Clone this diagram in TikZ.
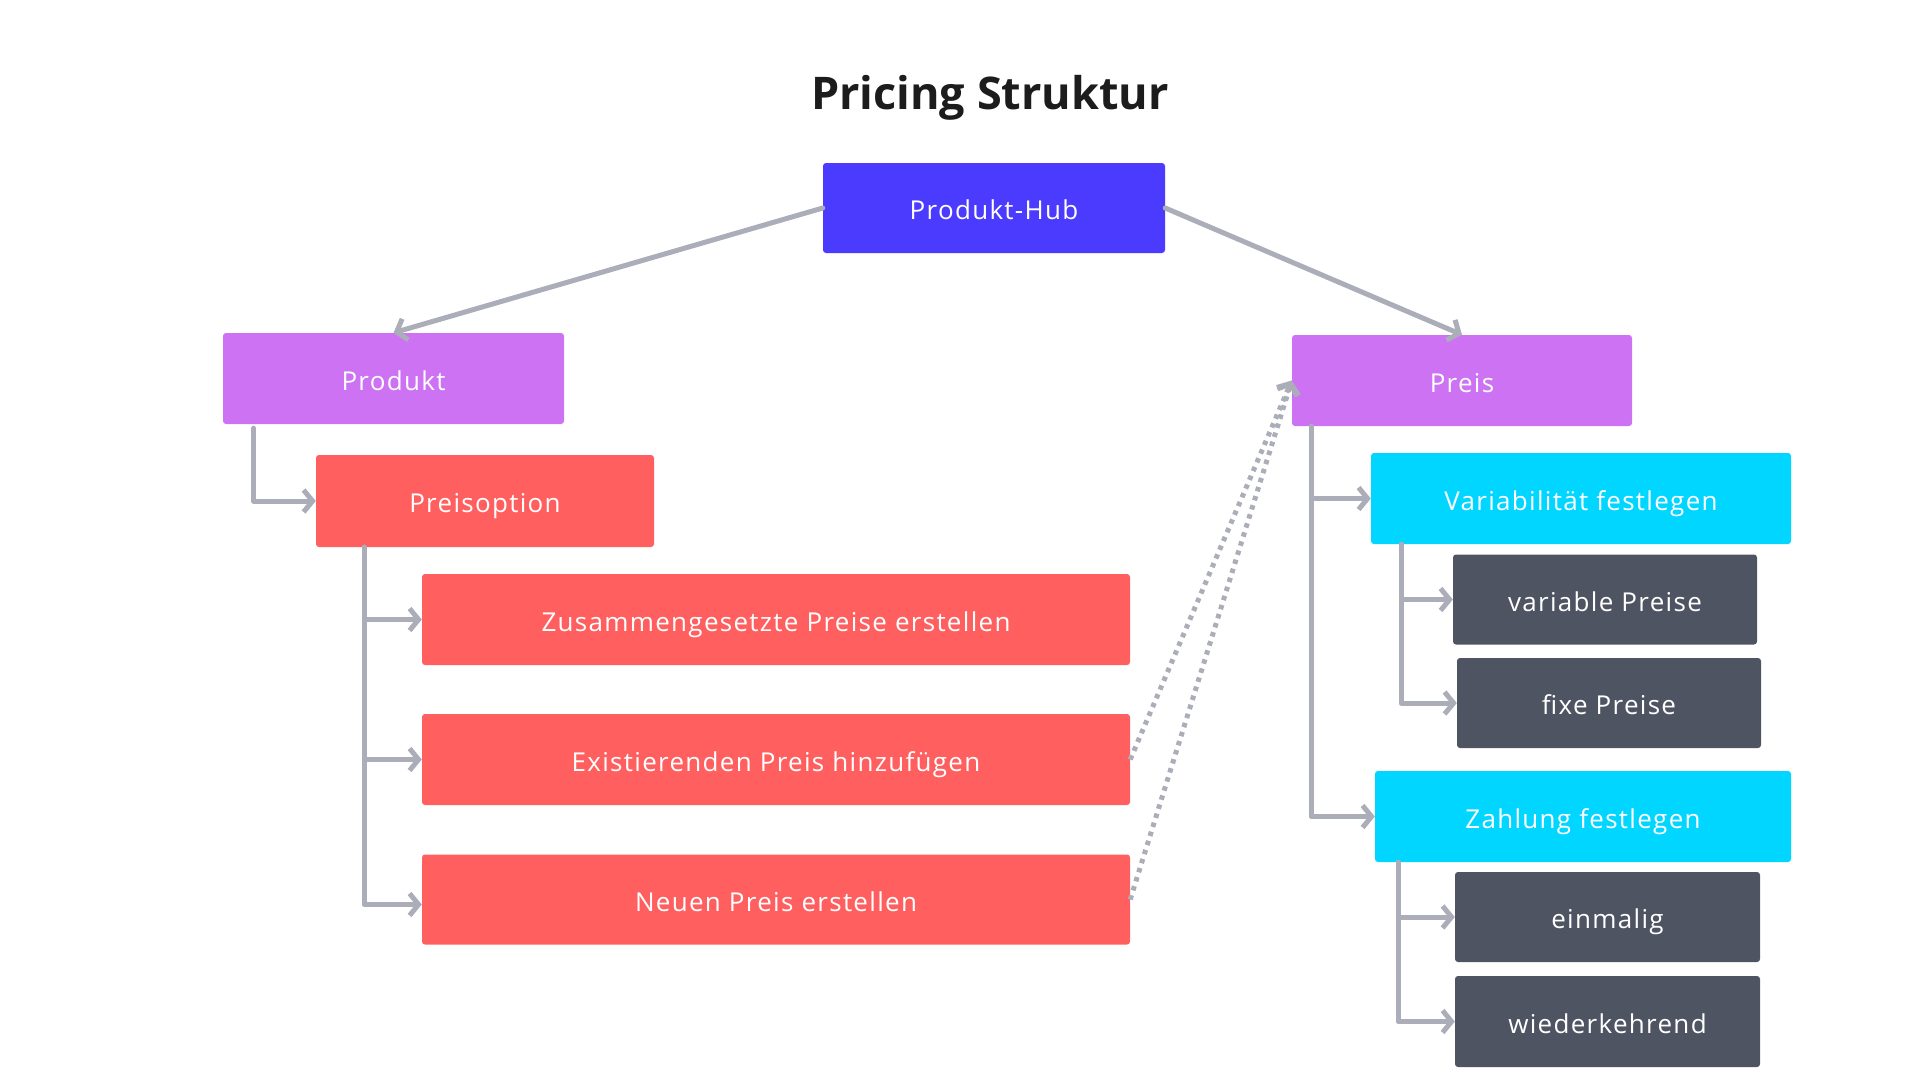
\documentclass[tikz,border=0pt]{standalone}
\usepackage{fontspec}
\setmainfont{Open Sans}[LetterSpace=5]
\newfontfamily\titlefont{Open Sans}[BoldFont={* Bold}]
\usetikzlibrary{arrows.meta}
\definecolor{hubc}{HTML}{4B3BFF}
\definecolor{purp}{HTML}{CC72F3}
\definecolor{redc}{HTML}{FF5F5F}
\definecolor{cyanc}{HTML}{00D6FF}
\definecolor{darkc}{HTML}{4F5462}
\definecolor{linec}{HTML}{ABAEB9}
\definecolor{titlec}{HTML}{1C1C1C}
\tikzset{
  box/.style={rectangle, rounded corners=3pt, text=white, inner sep=0pt,
    text height=24pt, text depth=1pt,
    font=\fontsize{26}{31}\selectfont},
  hubbox/.style={box, fill=hubc},
  purpbox/.style={box, fill=purp},
  redbox/.style={box, fill=redc},
  cyanbox/.style={box, fill=cyanc},
  darkbox/.style={box, fill=darkc},
  conn/.style={draw=linec, line width=5pt, line cap=round, line join=round,
    -{Straight Barb[length=9pt, width=22pt, line width=5pt]}},
  dotconn/.style={draw=linec, line width=5pt, dash pattern=on 4.5pt off 5pt,
    -{Straight Barb[length=9pt, width=22pt, line width=5pt]}},
}
\begin{document}
\begin{tikzpicture}[x=1pt, y=-1pt]
\useasboundingbox (0,0) rectangle (1920,1080);
\node[font=\titlefont\bfseries\fontsize{45}{54}\selectfont, text=titlec] (title) at (990,98) {Pricing Struktur};
\node[hubbox, minimum width=342pt, minimum height=90pt] (hub) at (994,208) {Produkt-Hub};
\node[purpbox, minimum width=341pt, minimum height=91pt] (produkt) at (393.5,378.5) {Produkt};
\node[redbox, minimum width=338pt, minimum height=92pt] (preisoption) at (485,501) {Preisoption};
\node[redbox, minimum width=708pt, minimum height=91pt] (zus) at (776,619.5) {Zusammengesetzte Preise erstellen};
\node[redbox, minimum width=708pt, minimum height=91pt] (exi) at (776,759.5) {Existierenden Preis hinzufügen};
\node[redbox, minimum width=708pt, minimum height=90pt] (neu) at (776,899.5) {Neuen Preis erstellen};
\node[purpbox, minimum width=340pt, minimum height=91pt] (preis) at (1462,380.5) {Preis};
\node[cyanbox, minimum width=420pt, minimum height=91pt] (var) at (1581,498.5) {Variabilität festlegen};
\node[darkbox, minimum width=304pt, minimum height=90pt] (vp) at (1605,599.5) {variable Preise};
\node[darkbox, minimum width=304pt, minimum height=90pt] (fp) at (1609,703) {fixe Preise};
\node[cyanbox, minimum width=416pt, minimum height=91pt] (zah) at (1583,816.5) {Zahlung festlegen};
\node[darkbox, minimum width=305pt, minimum height=90pt] (ein) at (1607.5,917) {einmalig};
\node[darkbox, minimum width=305pt, minimum height=91pt] (wie) at (1607.5,1021.5) {wiederkehrend};

\draw[conn] (hub.west) -- (produkt.north);
\draw[conn] (hub.east) -- (preis.north);
\draw[conn] ([xshift=-140pt,yshift=-4pt]produkt.south) |- (preisoption.west);
\draw[conn] ([xshift=-121pt]preisoption.south) |- (zus.west);
\draw[conn] ([xshift=-121pt]preisoption.south) |- (exi.west);
\draw[conn] ([xshift=-121pt]preisoption.south) |- ([yshift=-5pt]neu.west);
\draw[conn] ([xshift=-151pt]preis.south) |- (var.west);
\draw[conn] ([xshift=-151pt]preis.south) |- (zah.west);
\draw[conn] ([xshift=-180pt]var.south) |- (vp.west);
\draw[conn] ([xshift=-180pt]var.south) |- (fp.west);
\draw[conn] ([xshift=-185pt]zah.south) |- (ein.west);
\draw[conn] ([xshift=-185pt]zah.south) |- (wie.west);
\draw[dotconn] (exi.east) -- (preis.west);
\draw[dotconn] (neu.east) -- (preis.west);
\end{tikzpicture}
\end{document}
